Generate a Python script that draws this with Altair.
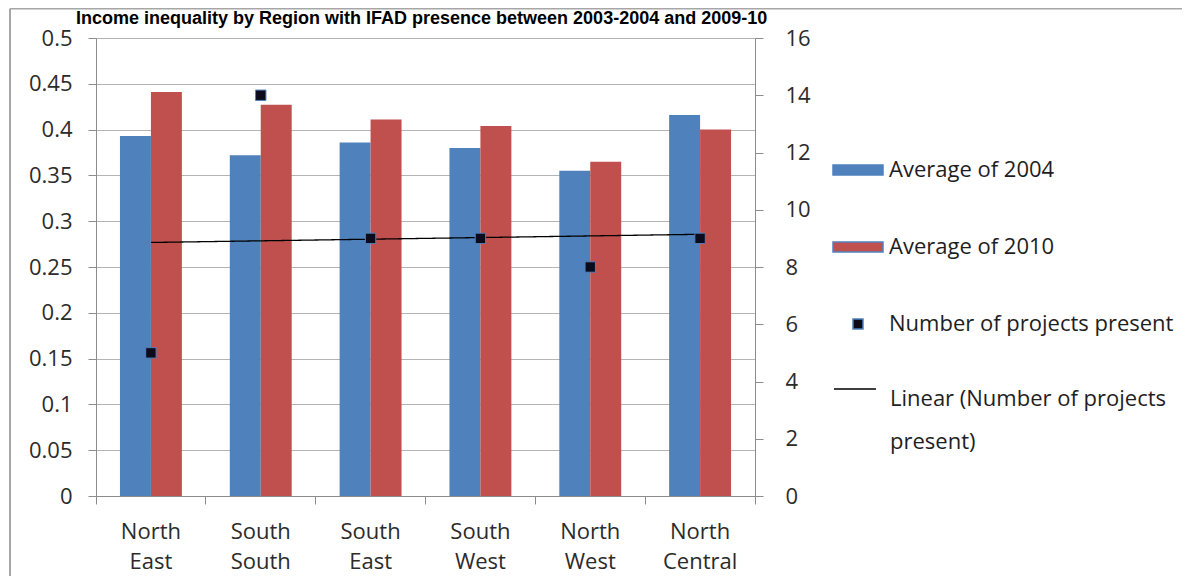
import json
import altair as alt
import pandas as pd

# ---------------- data ----------------
regions = ["North East", "South South", "South East", "South West", "North West", "North Central"]
avg_2004 = [0.393, 0.372, 0.386, 0.380, 0.355, 0.416]
avg_2010 = [0.441, 0.427, 0.411, 0.404, 0.365, 0.400]
projects = [5, 14, 9, 9, 8, 9]

series_names = ["Average of 2004", "Average of 2010", "Number of projects present"]
series_colors = ["#4F81BD", "#C0504D", "#0b0b1c"]
trend_name = "Linear (Number of projects present)"

left_ticks = [0, 0.05, 0.1, 0.15, 0.2, 0.25, 0.3, 0.35, 0.4, 0.45, 0.5]
right_ticks = [0, 2, 4, 6, 8, 10, 12, 14, 16]
title_text = "Income inequality by Region with IFAD presence between 2003-2004 and 2009-10"

# ---------------- tables ----------------
bars_df = pd.DataFrame({
    "region": regions * 2,
    "series": [series_names[0]] * len(regions) + [series_names[1]] * len(regions),
    "value": avg_2004 + avg_2010,
})
pts_df = pd.DataFrame({
    "region": regions,
    "idx": list(range(1, len(regions) + 1)),
    "projects": projects,
    "series": series_names[2],
})

# ---------------- styling ----------------
FONT = "Open Sans"
AX_COL = "#8c8c8c"
LAB_COL = "#2b2b2b"

rect_path = "M-1,-0.2L1,-0.2L1,0.2L-1,0.2Z"
sq_path = "M-0.2,-0.2L0.2,-0.2L0.2,0.2L-0.2,0.2Z"

color_scale = alt.Scale(domain=series_names, range=series_colors)
shape_scale = alt.Scale(domain=series_names, range=[rect_path, rect_path, sq_path])

legend_main = alt.Legend(
    title=None, orient="none", legendX=736, legendY=106, padding=0,
    symbolSize=2500, rowPadding=40, labelOffset=5,
    labelFont=FONT, labelFontSize=22, labelColor="#1e1e1e", labelLimit=500,
)
legend_trend = alt.Legend(
    title=None, orient="none", legendX=737, legendY=329, padding=0,
    symbolType="stroke", symbolSize=1764, symbolStrokeWidth=1.3, labelOffset=13,
    labelBaseline="top", labelFont=FONT, labelFontSize=22, labelColor="#1e1e1e",
    labelLimit=500,
    labelExpr="['Linear (Number of projects', 'present)']",
)

x_axis = alt.Axis(
    orient="bottom", title=None, grid=False, bandPosition=1, tickExtra=True,
    labelOffset=0, tickSize=8, tickColor=AX_COL, domainColor=AX_COL,
    labelPadding=17, labelAngle=0, labelFont=FONT, labelFontSize=22, labelColor=LAB_COL,
    labelLineHeight=30, labelExpr="split(datum.label, ' ')",
)
left_axis = alt.Axis(
    orient="left", title=None, values=left_ticks, format="~g", grid=True,
    gridColor="#b4b4b4", gridWidth=1, tickSize=8, tickColor=AX_COL, domainColor=AX_COL,
    labelPadding=16, labelFont=FONT, labelFontSize=22, labelColor=LAB_COL,
)
right_axis = alt.Axis(
    orient="right", title=None, values=right_ticks, grid=False,
    tickSize=8, tickColor=AX_COL, domainColor=AX_COL,
    labelPadding=22, labelFont=FONT, labelFontSize=22, labelColor=LAB_COL,
)

x_enc = alt.X("region:N", sort=regions, scale=alt.Scale(paddingInner=0, paddingOuter=0), axis=x_axis)

bars = alt.Chart(bars_df).mark_bar().encode(
    x=x_enc,
    xOffset=alt.XOffset("series:N", sort=series_names[:2],
                        scale=alt.Scale(paddingInner=0, paddingOuter=0.774)),
    y=alt.Y("value:Q", scale=alt.Scale(domain=[0, 0.5], nice=False), axis=left_axis),
    color=alt.Color("series:N", scale=color_scale, legend=legend_main),
)

y_right = alt.Y("projects:Q", scale=alt.Scale(domain=[0, 16], nice=False), axis=right_axis)

points = alt.Chart(pts_df).mark_point(
    filled=True, opacity=1, size=2700, stroke="#4F81BD", strokeWidth=1
).encode(
    x=x_enc,
    y=y_right,
    color=alt.Color("series:N", scale=color_scale, legend=legend_main),
    shape=alt.Shape("series:N", scale=shape_scale, legend=legend_main),
)

trend = alt.Chart(pts_df).transform_regression(
    "idx", "projects"
).transform_calculate(
    region=f"{json.dumps(regions)}[round(datum.idx) - 1]",
    trend=f"'{trend_name}'",
).mark_line(strokeWidth=1.3, color="#000000").encode(
    x=x_enc,
    y=y_right,
    strokeDash=alt.StrokeDash("trend:N", scale=alt.Scale(domain=[trend_name], range=[[1, 0]]),
                              legend=legend_trend),
)

one = alt.Data(values=[{"k": 1}])
frame_left = alt.Chart(one).mark_rule(color="#a6a6a6", strokeWidth=2).encode(
    x=alt.value(-86), y=alt.value(-29.25), y2=alt.value(600)
)
frame_top = alt.Chart(one).mark_rule(color="#a6a6a6", strokeWidth=1.5).encode(
    x=alt.value(-86), x2=alt.value(1200), y=alt.value(-29.25)
)
title = alt.Chart(one).mark_text(
    align="left", baseline="alphabetic", font="Liberation Sans", fontWeight="bold",
    fontSize=18, color="#000000"
).encode(x=alt.value(-20), y=alt.value(-14), text=alt.value(title_text))

chart = alt.layer(
    bars, alt.layer(trend, points), frame_left, frame_top, title
).resolve_scale(
    y="independent"
).properties(
    width=659,
    height=458,
    padding={"left": 88, "top": 30, "right": 427, "bottom": 80},
    autosize=alt.AutoSizeParams(type="none"),
).configure_view(
    strokeWidth=0
).configure(
    style={"guide-label": {"lineHeight": 43}}
)

chart.save("out.html", embed_options={"renderer": "svg", "actions": False})
